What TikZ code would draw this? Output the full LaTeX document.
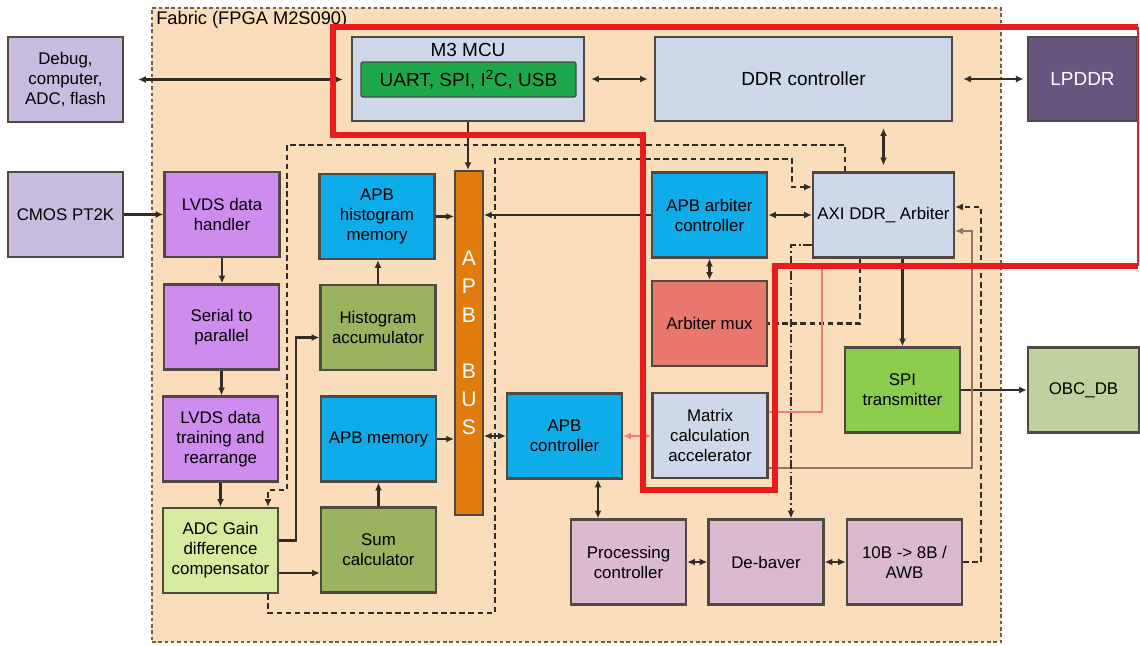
\documentclass[tikz,border=0pt]{standalone}
\usepackage{fontspec}
\setsansfont{Liberation Sans}
\usepackage{tikz}
\usetikzlibrary{arrows.meta, positioning, calc}

\definecolor{fabricbg}{RGB}{250,222,188}
\definecolor{fabricln}{RGB}{105,96,88}
\definecolor{edgec}{RGB}{80,72,66}
\definecolor{wirec}{RGB}{50,44,40}
\definecolor{lavc}{RGB}{200,188,222}
\definecolor{greyblue}{RGB}{205,217,234}
\definecolor{uartc}{RGB}{30,168,76}
\definecolor{lpddrc}{RGB}{104,86,128}
\definecolor{violetc}{RGB}{205,140,238}
\definecolor{adcc}{RGB}{214,234,160}
\definecolor{cyanc}{RGB}{14,172,232}
\definecolor{olivec}{RGB}{155,178,95}
\definecolor{busc}{RGB}{224,124,14}
\definecolor{muxc}{RGB}{232,120,110}
\definecolor{spic}{RGB}{140,204,76}
\definecolor{obcc}{RGB}{190,210,160}
\definecolor{pinkc}{RGB}{218,186,206}
\definecolor{redc}{RGB}{232,28,28}
\definecolor{lightred}{RGB}{240,125,115}
\definecolor{thinc}{RGB}{140,120,105}

\begin{document}
\begin{tikzpicture}[x=0.25mm, y=-0.25mm, >={Latex[length=5.5pt,width=5pt]},
        font=\sffamily\fontsize{12}{14.2}\selectfont,
        blk/.style={draw=edgec, line width=1.6pt, minimum width=28.75mm, minimum height=21.25mm, align=center, inner sep=1pt},
        big/.style={font=\sffamily\fontsize{13.5}{16}\selectfont},
        link/.style={draw=wirec, line width=1.5pt},
        dlink/.style={link, dash pattern=on 4pt off 2.5pt},
        ddlink/.style={link, dash pattern=on 6pt off 2pt on 1.2pt off 2pt}]
        \useasboundingbox (0,0) rectangle (1140,645);

        % Fabric
        \node[draw=fabricln, fill=fabricbg, line width=1.8pt, dash pattern=on 2.5pt off 2pt, minimum width=212.25mm, minimum height=158.5mm] (fabric) at (576.5,325) {};
        \node[anchor=west, inner sep=0pt, font=\sffamily\fontsize{13}{15}\selectfont] (fabriclbl) at (156,20) {Fabric (FPGA M2S090)};

        % Top row
        \node[blk, fill=lavc] (debug) at (65.5,79.5) {Debug,\\computer,\\ADC, flash};
        \node[blk, fill=greyblue, minimum width=58mm, minimum height=21mm] (mcu) at (468,79) {};
        \node[big] (mcutitle) at (468,50) {M3 MCU};
        \node[draw=edgec, fill=uartc, line width=1pt, rounded corners=1.5pt, minimum width=53.75mm, minimum height=8.75mm, big] (uart) at (468.5,79.5) {UART, SPI, I\textsuperscript{2}C, USB};
        \node[blk, big, fill=greyblue, minimum width=74.25mm, minimum height=21mm] (ddr) at (803.5,79) {DDR controller};
        \node[blk, big, fill=lpddrc, text=white, minimum width=27.25mm, minimum height=21mm] (lpddr) at (1082.5,79) {LPDDR};

        % Sensor chain
        \node[blk, fill=lavc] (cmos) at (65.5,214.5) {CMOS PT2K};
        \node[blk, fill=violetc] (lvdsh) at (222,214.5) {LVDS data\\handler};
        \node[blk, fill=violetc] (stop) at (221.5,327) {Serial to\\parallel};
        \node[blk, fill=violetc] (lvdst) at (220.5,439) {LVDS data\\training and\\rearrange};
        \node[blk, fill=adcc] (adc) at (220.5,550.5) {ADC Gain\\difference\\compensator};

        % Histogram and sum
        \node[blk, fill=cyanc] (hmem) at (377,216.5) {APB\\histogram\\memory};
        \node[blk, fill=olivec] (hacc) at (378,327.5) {Histogram\\accumulator};
        \node[blk, fill=cyanc] (amem) at (378.5,439) {APB memory};
        \node[blk, fill=olivec] (sumc) at (378.5,550) {Sum\\calculator};

        % Bus
        \node[draw=edgec, fill=busc, line width=1.4pt, minimum width=7mm, minimum height=86mm] (bus) at (469,343) {};
        \node[text=white, align=center, inner sep=0pt, font=\sffamily\fontsize{15}{20}\selectfont] (buslbl) at (bus) {A\\P\\B\\[20pt]B\\U\\S};

        % Arbiter side
        \node[blk, fill=cyanc] (arbc) at (709.5,215) {APB arbiter\\controller};
        \node[blk, fill=muxc] (amux) at (709.5,323.5) {Arbiter mux};
        \node[blk, fill=greyblue] (matrix) at (710,435.5) {Matrix\\calculation\\accelerator};
        \node[blk, fill=cyanc] (apbc) at (564.5,436) {APB\\controller};
        \node[blk, fill=greyblue, minimum width=35.25mm] (axi) at (883.5,215) {AXI DDR\_ Arbiter};
        \node[blk, fill=spic] (spi) at (902.5,390) {SPI\\transmitter};
        \node[blk, fill=obcc, minimum width=27.75mm] (obc) at (1083.5,390) {OBC\_DB};

        % Bottom row
        \node[blk, fill=pinkc] (proc) at (628.5,562) {Processing\\controller};
        \node[blk, fill=pinkc] (debayer) at (766,562) {De-baver};
        \node[blk, fill=pinkc] (awb) at (904.5,562) {10B -> 8B /\\AWB};

        % Bends
        \coordinate (d1) at (287,145);
        \coordinate (d2) at (287,490);
        \coordinate (d3) at (495,613);
        \coordinate (d4) at (495,159);
        \coordinate (d5) at (792,159);
        \coordinate (redjoin) at (822,266);

        % External links
        \draw[link, <->, shorten <=3.5mm, shorten >=2mm] (debug.east) -- (debug.east -| mcu.west);
        \draw[link, <->, shorten <=1.5mm, shorten >=1.5mm] (mcu.east) -- (mcu.east -| ddr.west);
        \draw[link, <->, shorten <=2.5mm, shorten >=0.8mm] (ddr.east) -- (ddr.east -| lpddr.west);
        \draw[link, <->, shorten <=1.5mm, shorten >=1.5mm] (ddr.south -| axi.north) -- (axi.north);
        \draw[link, ->] (mcu.south) -- (mcu.south |- bus.north);
        \draw[link, ->] (cmos.east) -- (cmos.east -| lvdsh.west);
        \draw[link, ->] (spi.east) -- (spi.east -| obc.west);

        % Sensor chain links
        \draw[link, ->] (lvdsh.south) -- (lvdsh.south |- stop.north);
        \draw[link, ->] (stop.south) -- (stop.south |- lvdst.north);
        \draw[link, ->] (lvdst.south) -- (lvdst.south |- adc.north);
        \draw[link, ->] ([yshift=2.5mm]adc.east) -| ([xshift=-5.75mm,yshift=-2.5mm]hacc.west) -- ([yshift=-2.5mm]hacc.west);
        \draw[link, ->] ([yshift=-5.625mm]adc.east) -- ([yshift=-5.625mm]adc.east -| sumc.west);
        \draw[link, ->] (hacc.north) -- (hacc.north |- hmem.south);
        \draw[link, ->] (sumc.north) -- (sumc.north |- amem.south);

        % Bus links
        \draw[link, ->] (hmem.east) -- (hmem.east -| bus.west);
        \draw[link, ->] (amem.east) -- (amem.east -| bus.west);
        \draw[link, ->] (arbc.west) -- (arbc.west -| bus.east);
        \draw[link, <->] (apbc.west) -- (apbc.west -| bus.east);

        % Arbiter links
        \draw[link, <->] (arbc.east) -- (arbc.east -| axi.west);
        \draw[link, <->] (arbc.south) -- (arbc.south |- amux.north);
        \draw[lightred, line width=1.5pt, <->] (apbc.east) -- (apbc.east -| matrix.west);
        \draw[link, <->] ([xshift=8.375mm]apbc.south) -- ([xshift=8.375mm]apbc.south |- proc.north);
        \draw[link, <->] (proc.east) -- (proc.east -| debayer.west);
        \draw[link, <->] (debayer.east) -- (debayer.east -| awb.west);
        \draw[link, ->] (spi.north |- axi.south) -- (spi.north);
        \draw[dlink, ->] (awb.east) -| ([xshift=6.5mm,yshift=2mm]axi.east) -- ([yshift=2mm]axi.east);
        \draw[draw=thinc, line width=1pt, ->] ([yshift=-8.125mm]matrix.east) -| ([xshift=4.25mm,yshift=-4mm]axi.east) -- ([yshift=-4mm]axi.east);
        \draw[dlink] ([xshift=-5.875mm]axi.south) |- (amux.east);
        \draw[ddlink, ->] ([yshift=-7.5mm]axi.west) -| ([xshift=6.25mm]debayer.north);
        \draw[lightred, line width=1pt] ([yshift=5.875mm]matrix.east) -| (redjoin);

        % Dashed loops
        \draw[dlink, ->] ([xshift=-9.625mm]axi.north) |- (d1) -- (d2) -| ([xshift=11.875mm]adc.north);
        \draw[dlink, ->] ([xshift=11.875mm]adc.south) |- (d3) -- (d4) -- (d5) |- ([yshift=7mm]axi.west);

        % Red outline
        \draw[redc, line width=3.6pt, line join=miter] (1138,27) -- (333,27) -- (333,135) -- (643,135) -- (643,490) -- (775,490) -- (775,266) -- (1138,266);
        \draw[redc, line width=0.8pt] (1138,27) -- (1138,266);
    \end{tikzpicture}
\end{document}
